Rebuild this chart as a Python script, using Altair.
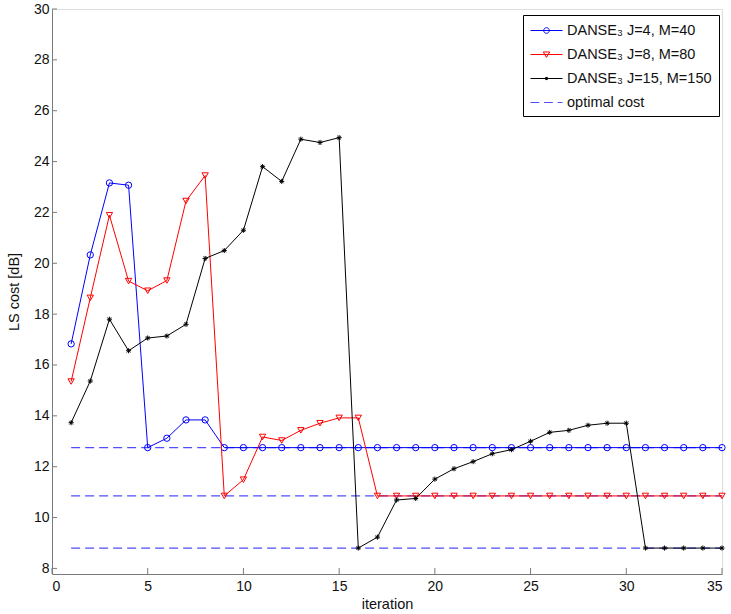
import altair as alt
import pandas as pd

iterations = list(range(1, 36))

cost_j4 = [16.83, 20.33, 23.16, 23.07, 12.75, 13.12, 13.84, 13.84, 12.75, 12.75,
           12.75, 12.75, 12.75, 12.75, 12.75, 12.75, 12.75, 12.75, 12.75, 12.75,
           12.75, 12.75, 12.75, 12.75, 12.75, 12.75, 12.75, 12.75, 12.75, 12.75,
           12.75, 12.75, 12.75, 12.75, 12.75]
cost_j8 = [15.35, 18.64, 21.89, 19.30, 18.92, 19.32, 22.45, 23.45, 10.85, 11.49,
           13.17, 13.03, 13.43, 13.71, 13.92, 13.92, 10.85, 10.85, 10.85, 10.85,
           10.85, 10.85, 10.85, 10.85, 10.85, 10.85, 10.85, 10.85, 10.85, 10.85,
           10.85, 10.85, 10.85, 10.85, 10.85]
cost_j15 = [13.73, 15.37, 17.80, 16.56, 17.06, 17.14, 17.60, 20.19, 20.50, 21.30,
            23.80, 23.22, 24.88, 24.75, 24.94, 8.80, 9.23, 10.69, 10.75, 11.51,
            11.92, 12.20, 12.51, 12.67, 13.00, 13.35, 13.43, 13.63, 13.71, 13.71,
            8.80, 8.80, 8.80, 8.80, 8.80]
optimal_costs = [12.75, 10.85, 8.80]
opt_start = [1, 1, 1]
opt_end = [35, 35, 35]

series_labels = ["DANSE\u2083 J=4, M=40", "DANSE\u2083 J=8, M=80",
                 "DANSE\u2083 J=15, M=150", "optimal cost"]
series_colors = ["#0000ff", "#ff0000", "#000000", "#4f4fff"]

x_ticks = [0, 5, 10, 15, 20, 25, 30, 35]
y_ticks = [8, 10, 12, 14, 16, 18, 20, 22, 24, 26, 28, 30]

W, H = 670, 565
FONT = "Liberation Sans"
AXIS_GRAY = "#7a7a7a"

ASTERISK = "M-1,0H1M0,-1V1M-0.7,-0.7L0.7,0.7M-0.7,0.7L0.7,-0.7"
marker_shapes = ["circle", "triangle-down", ASTERISK]
marker_sizes = [40, 40, 26]

# legend symbols (unit = 8 px): line segment 32 px long plus marker at its middle
LEG_CIRCLE = "M-1,0H3M1.35,0A0.35,0.35 0 1,1 0.65,0A0.35,0.35 0 1,1 1.35,0Z"
LEG_TRI = "M-1,0H3M0.6,-0.32L1.4,-0.32L1,0.36Z"
LEG_AST = "M-1,0H3M1,-0.2V0.2M0.85,-0.15L1.15,0.15M0.85,0.15L1.15,-0.15"
LEG_DASH = "M-1,0H0.1M0.7,0H1.8M2.4,0H3"
legend_shapes = [LEG_CIRCLE, LEG_TRI, LEG_AST, LEG_DASH]

xs = alt.Scale(domain=[0, 35], nice=False, zero=False)
ys = alt.Scale(domain=[7.78, 30], nice=False, zero=False)

x_axis = alt.Axis(values=x_ticks, title="iteration", grid=False, ticks=False,
                  labelPadding=5, titlePadding=4, domainColor=AXIS_GRAY,
                  labelFontSize=14, titleFontSize=14.5, titleFontWeight="normal",
                  labelFont=FONT, titleFont=FONT, labelColor="#111",
                  titleColor="#111")
y_axis = alt.Axis(values=y_ticks, title="LS cost [dB]", grid=False, ticks=False,
                  labelPadding=3, titlePadding=12, domainColor=AXIS_GRAY,
                  labelFontSize=14, titleFontSize=14.5, titleFontWeight="normal",
                  labelFont=FONT, titleFont=FONT, labelColor="#111",
                  titleColor="#111")

all_series = [cost_j4, cost_j8, cost_j15]
layers = []

# optimal cost dashed lines
opt_df = pd.DataFrame({"start": opt_start, "end": opt_end, "cost": optimal_costs})
opt_layer = alt.Chart(opt_df).mark_rule(
    color=series_colors[3], strokeDash=[9, 5], strokeWidth=1.3
).encode(
    x=alt.X("start:Q", scale=xs, axis=x_axis),
    x2="end:Q",
    y=alt.Y("cost:Q", scale=ys, axis=y_axis),
)

for vals, col, shp, sz in zip(all_series, series_colors, marker_shapes, marker_sizes):
    df = pd.DataFrame({"iteration": iterations, "cost": vals})
    base = alt.Chart(df).encode(
        x=alt.X("iteration:Q", scale=xs, axis=x_axis),
        y=alt.Y("cost:Q", scale=ys, axis=y_axis),
    )
    layers.append(base.mark_line(color=col, strokeWidth=1))
    layers.append(base.mark_point(shape=shp, size=sz, filled=False,
                                  color=col, strokeWidth=1, opacity=1))

# inward ticks
xt_df = pd.DataFrame({"t": x_ticks})
yt_df = pd.DataFrame({"t": y_ticks})
xtick_layer = alt.Chart(xt_df).mark_rule(color=AXIS_GRAY, strokeWidth=1).encode(
    x=alt.X("t:Q", scale=xs, axis=x_axis), y=alt.value(H), y2=alt.value(H - 6))
ytick_layer = alt.Chart(yt_df).mark_rule(color=AXIS_GRAY, strokeWidth=1).encode(
    y=alt.Y("t:Q", scale=ys, axis=y_axis), x=alt.value(0), x2=alt.value(5))

legend_opts = dict(title=None, orient="none", legendX=471, legendY=6,
                   symbolSize=256, symbolStrokeWidth=1, symbolOpacity=1,
                   labelFont=FONT, labelFontSize=14.5, labelColor="#111",
                   strokeColor="#000", fillColor="#ffffff", padding=7,
                   rowPadding=9, labelOffset=20, labelLimit=300)

# legend layer (invisible marks, visible legend)
leg_df = pd.DataFrame({"series": series_labels})
legend_layer = alt.Chart(leg_df).mark_point(filled=False, opacity=0).encode(
    color=alt.Color("series:N", scale=alt.Scale(domain=series_labels, range=series_colors),
                    legend=alt.Legend(**legend_opts)),
    shape=alt.Shape("series:N", scale=alt.Scale(domain=series_labels, range=legend_shapes),
                    legend=alt.Legend(**legend_opts)),
)

chart = alt.layer(opt_layer, *layers, xtick_layer, ytick_layer, legend_layer).properties(
    width=W, height=H,
    autosize=alt.AutoSizeParams(type="none"),
    padding={"left": 52, "top": 9, "right": 9, "bottom": 40},
).configure_view(stroke=None).configure(background="white")

chart.save("out.html", embed_options={"renderer": "svg", "actions": False})
